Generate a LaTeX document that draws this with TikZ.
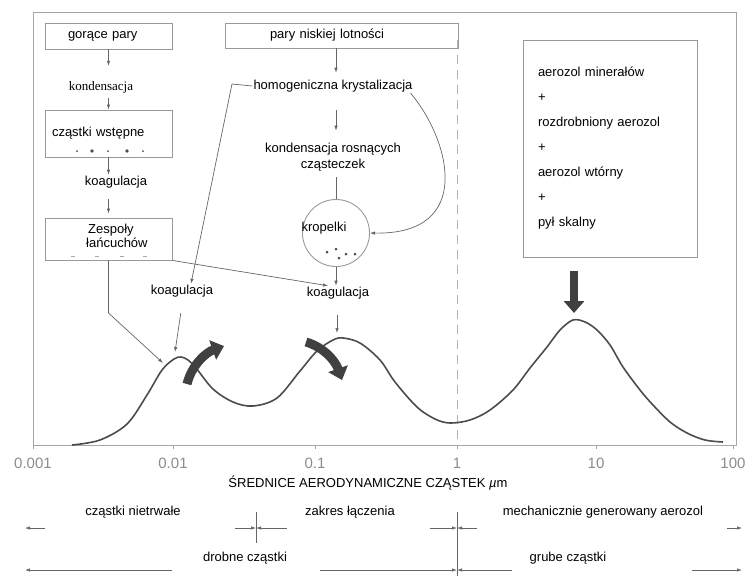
\documentclass[tikz,border=0pt]{standalone}
\usepackage{fontspec}
\setmainfont{Liberation Sans}
\newfontfamily\kondfont{Liberation Serif}
\usetikzlibrary{arrows.meta}

\begin{document}
\begin{tikzpicture}[x=1pt, y=-1pt,
                txt/.style={font=\fontsize{13}{14}\selectfont, inner sep=1pt},
                box/.style={draw=gray!80, line width=0.9pt, font=\fontsize{13}{14}\selectfont},
                arr/.style={-{Latex[length=5pt,width=3.5pt]}, gray!80!black, line width=0.7pt},
                ln/.style={gray!80!black, line width=0.7pt},
                fat/.style={line width=9pt, black!75, -{Triangle[width=20pt,length=12pt]}},
                ticklab/.style={font=\fontsize{15}{18}\selectfont, text=gray!90}
            ]
                \useasboundingbox (0,0) rectangle (747,576);
                \draw[gray!70, line width=0.8pt] (33,12) rectangle (736,445);
                \draw[gray!60, line width=0.8pt, dash pattern=on 9pt off 6pt] (457,40) -- (457,445);
                \foreach \x/\l [count=\i] in {33/0.001, 173/0.01, 315/0.1, 457/1, 596/10, 733/100} {
                    \draw[gray!70, line width=0.8pt] (\x,445) -- (\x,449);
                    \node[ticklab] (d\i) at (\x,463) {\l};
                }
                \draw[black!70, line width=1.6pt] plot[smooth, tension=0.55] coordinates {
                    (72,445) (100,440) (127,424) (147,395) (162,370) (174,359) (181,357)
                    (188,360) (196,368) (213,389) (233,402) (253,406) (277,398) (300,371)
                    (317,351) (333,340) (343,338) (360,343) (380,360) (395,382) (417,407)
                    (435,419) (450,423) (470,420) (490,410) (513,390) (530,368) (547,347)
                    (560,330) (573,320) (585,322) (597,330) (610,345) (623,367) (640,390)
                    (653,405) (670,422) (687,433) (705,440) (723,442)};

                \node[box, minimum width=127pt, minimum height=26pt, text width=81pt,
                      inner xsep=23pt, align=left] (gor) at (108.5,36) {gorące pary};
                \node[txt, font=\kondfont\fontsize{13}{14}\selectfont] (kond) at (101,87) {kondensacja};
                \node[box, minimum width=127pt, minimum height=47pt, text width=113pt,
                      inner xsep=7pt, align=left] (wst) at (108.5,133.5) {cząstki wstępne};
                \node[txt] (koag1) at (116,182) {koagulacja};
                \node[box, minimum width=127pt, minimum height=42pt] (zesp) at (108.5,239) {};
                \node[txt, align=left, anchor=west] (zespt) at (85,236) {\hspace*{2pt}Zespoły\\łańcuchów};
                \node[box, minimum width=233pt, minimum height=25pt, text width=143pt,
                      inner xsep=45pt, align=left] (pary) at (341.5,35.5) {pary niskiej lotności};
                \node[txt] (homo) at (333,86) {homogeniczna krystalizacja};
                \node[txt, align=center, font=\fontsize{13}{16}\selectfont] (kr) at (333,157)
                    {kondensacja rosnących\\cząsteczek};
                \node[draw=gray!80, line width=0.9pt, circle, minimum size=67pt] (kro) at (336,233) {};
                \node[txt] (krot) at (324,228) {kropelki};
                \node[txt] (koag2) at (182,291) {koagulacja};
                \node[txt] (koag3) at (338,293) {koagulacja};
                \node[box, minimum width=174pt, minimum height=217pt, text width=144pt, inner xsep=15pt,
                      align=left, font=\fontsize{13}{25}\selectfont] (aer) at (610,148.5)
                    {aerozol minerałów\\+\\rozdrobniony aerozol\\+\\aerozol wtórny\\+\\pył skalny};

                \foreach \x/\r in {77/1, 92/1.8, 108/1, 127/1.8, 143/1}
                    \fill[gray!60!black] (\x,151) circle (\r pt);
                \foreach \x in {73,97,122,145}
                    \draw[gray!70, line width=0.8pt] (\x-2,256) -- (\x+2,256);
                \foreach \x/\y in {327/252, 336/249, 339/258, 346/254, 355/254}
                    \fill[gray!60!black] (\x,\y) circle (1.5pt);

                \coordinate (p1) at (163,363);
                \coordinate (p1b) at (175,352);
                \coordinate (p2) at (337,333);
                \coordinate (p3) at (574,313);
                \coordinate (bend1) at (108.5,313);
                \coordinate (homol) at (232,84);

                \draw[arr, shorten >=14pt] (gor) -- (gor |- kond.north);
                \draw[arr, shorten <=4pt] (kond.south -| wst) -- (wst);
                \draw[arr] (wst) -- (wst |- koag1.north);
                \draw[arr, shorten <=10pt, shorten >=4pt] (koag1.south -| zesp) -- (zesp);
                \draw[arr] (zesp) -- (bend1) -- (p1);
                \draw[arr] (zesp.south east) -- ([xshift=-10pt]koag3.north);
                \draw[arr, shorten >=6pt] (pary.south -| kro) -- (kro |- homo.north);
                \draw[arr] (homo.west) -- (homol) -- ([xshift=9pt]koag2.north);
                \draw[arr] ([xshift=-3pt]homo.south east) .. controls (450,140) and (475,235) .. (kro.east);
                \draw[arr, shorten <=17pt, shorten >=11pt] (kro |- homo.south) -- (kro |- kr.north);
                \draw[ln, shorten <=5pt] (kro |- kr.south) -- (kro);
                \draw[arr] (kro) -- (kro |- koag3.north);
                \draw[arr, shorten <=15pt] (koag3.south -| p2) -- (p2);
                \draw[arr, shorten <=15pt] ([xshift=1pt]koag2.south) -- (p1b);
                \draw[line width=8pt, black!75, -{Triangle[width=20pt,length=12pt]}, shorten <=14pt]
                    (aer.south -| p3) -- (p3);

                \coordinate (c1) at (187,384);
                \coordinate (c1e) at (224,346);
                \coordinate (c2) at (306,342);
                \coordinate (c2e) at (342,380);
                \draw[fat] (c1) .. controls (192,364) and (207,352) .. (c1e);
                \draw[fat] (c2) .. controls (323,347) and (335,360) .. (c2e);

                \node[txt] (axl) at (368,483) {ŚREDNICE AERODYNAMICZNE CZĄSTEK {\itshape µ}m};
                \node[txt] (nietr) at (133,512) {cząstki nietrwałe};
                \node[txt] (zakr) at (350,512) {zakres łączenia};
                \node[txt] (mech) at (603,512) {mechanicznie generowany aerozol};
                \node[txt] (drob) at (245,558) {drobne cząstki};
                \node[txt] (grub) at (568,558) {grube cząstki};

                \coordinate (s1) at (256,512);
                \coordinate (s1b) at (256,543);
                \coordinate (s2) at (457,512);
                \coordinate (s2b) at (457,576);
                \draw[ln] (s1) -- (s1b);
                \draw[ln] (s2) -- (s2b);
                \coordinate (g1) at (256,528);
                \coordinate (g2) at (457,528);
                \coordinate (g3) at (457,570);
                \coordinate (e1) at (25,528);
                \coordinate (e2) at (742,528);
                \coordinate (e3) at (25,570);
                \coordinate (e4) at (742,570);
                \draw[arr] ([xshift=20pt]e1) -- (e1);
                \draw[arr] ([xshift=-21pt]g1) -- (g1);
                \draw[arr] ([xshift=31pt]g1) -- (g1);
                \draw[arr] ([xshift=-27pt]g2) -- (g2);
                \draw[arr] ([xshift=20pt]g2) -- (g2);
                \draw[arr] ([xshift=-15pt]e2) -- (e2);
                \draw[arr] ([xshift=147pt]e3) -- (e3);
                \draw[arr] ([xshift=-137pt]g3) -- (g3);
                \draw[arr] ([xshift=55pt]g3) -- (g3);
                \draw[arr] ([xshift=-50pt]e4) -- (e4);
            \end{tikzpicture}
\end{document}
